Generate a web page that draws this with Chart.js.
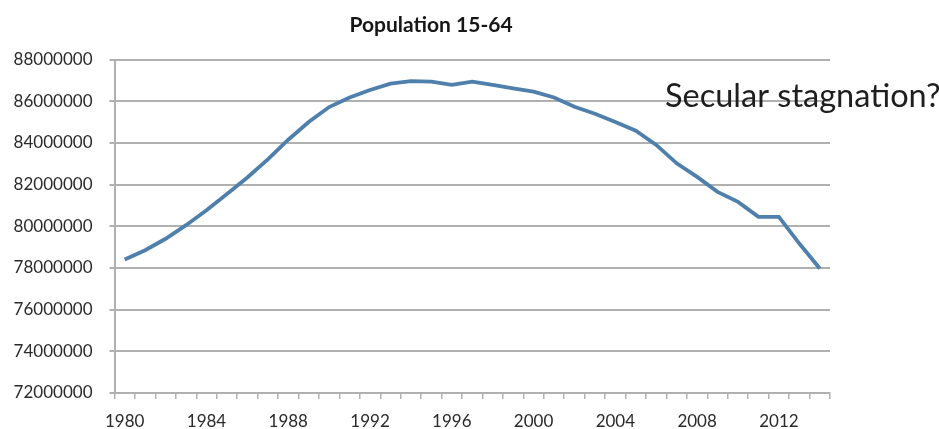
<!DOCTYPE html>
<html>
<head>
<meta charset="utf-8">
<title>Population 15-64</title>
<script src="https://cdn.jsdelivr.net/npm/chart.js@4/dist/chart.umd.min.js"></script>
<style>
  html, body { margin: 0; padding: 0; background: #ffffff; }
  canvas { display: block; }
</style>
</head>
<body>
<canvas id="chart" width="939" height="429"></canvas>
<script>
// Years on the category axis
const years = [
  1980, 1981, 1982, 1983, 1984, 1985, 1986, 1987, 1988, 1989,
  1990, 1991, 1992, 1993, 1994, 1995, 1996, 1997, 1998, 1999,
  2000, 2001, 2002, 2003, 2004, 2005, 2006, 2007, 2008, 2009,
  2010, 2011, 2012, 2013, 2014
];

// Working-age population (15-64), persons
const population = [
  78400000, 78850000, 79400000, 80050000, 80770000, 81550000, 82340000, 83210000, 84150000, 85000000,
  85720000, 86180000, 86540000, 86840000, 86960000, 86940000, 86780000, 86940000, 86780000, 86620000,
  86460000, 86180000, 85730000, 85400000, 85000000, 84580000, 83900000, 83020000, 82370000, 81650000,
  81170000, 80450000, 80450000, 79170000, 77970000
];

// Years that carry a label on the x axis
const labelledYears = [1980, 1984, 1988, 1992, 1996, 2000, 2004, 2008, 2012];

// Value axis range and step
const yMin = 72000000;
const yMax = 88000000;
const yStep = 2000000;

const chartTitle = 'Population 15-64';
const note = 'Secular stagnation?';

const gridGrey = '#b0b0b0';
const textGrey = '#2a2a2a';

// Title above the plot and the free-standing note at the right
const textPlugin = {
  id: 'chartTexts',
  afterDraw(chart) {
    const ctx = chart.ctx;
    ctx.save();
    ctx.fillStyle = '#161616';
    ctx.font = 'bold 21px Lato, "Open Sans", sans-serif';
    ctx.textAlign = 'center';
    ctx.textBaseline = 'alphabetic';
    ctx.fillText(chartTitle, 431, 32);

    ctx.fillStyle = '#1e1e1e';
    ctx.font = '32.5px Lato, "Open Sans", sans-serif';
    ctx.textAlign = 'left';
    ctx.fillText(note, 665, 107);
    ctx.restore();
  }
};

new Chart(document.getElementById('chart'), {
  type: 'line',
  data: {
    labels: years,
    datasets: [{
      label: chartTitle,
      data: population,
      borderColor: '#4f7fab',
      borderWidth: 3.8,
      pointRadius: 0,
      tension: 0,
      fill: false
    }]
  },
  options: {
    responsive: false,
    animation: false,
    layout: { padding: { top: 59.5, right: 109, bottom: 0, left: 0 } },
    plugins: {
      legend: { display: false },
      title: { display: false },
      tooltip: { enabled: false }
    },
    scales: {
      x: {
        type: 'category',
        offset: true,
        grid: {
          offset: true,
          drawOnChartArea: false,
          drawTicks: true,
          tickLength: 6,
          color: gridGrey,
          lineWidth: 1.5
        },
        border: { color: gridGrey, width: 2 },
        ticks: {
          autoSkip: false,
          maxRotation: 0,
          minRotation: 0,
          padding: 12,
          color: textGrey,
          font: { family: 'Lato, "Open Sans", sans-serif', size: 17 },
          callback: (value, index) => labelledYears.includes(years[index]) ? String(years[index]) : ''
        },
        afterFit: scale => { scale.height = 36; }
      },
      y: {
        min: yMin,
        max: yMax,
        grid: {
          color: gridGrey,
          lineWidth: 2,
          drawTicks: true,
          tickLength: 5
        },
        border: { color: gridGrey, width: 2 },
        ticks: {
          stepSize: yStep,
          padding: 17,
          color: textGrey,
          font: { family: 'Lato, "Open Sans", sans-serif', size: 17 },
          callback: value => String(value)
        },
        afterFit: scale => { scale.width = 114.5; }
      }
    }
  },
  plugins: [textPlugin]
});
</script>
</body>
</html>
